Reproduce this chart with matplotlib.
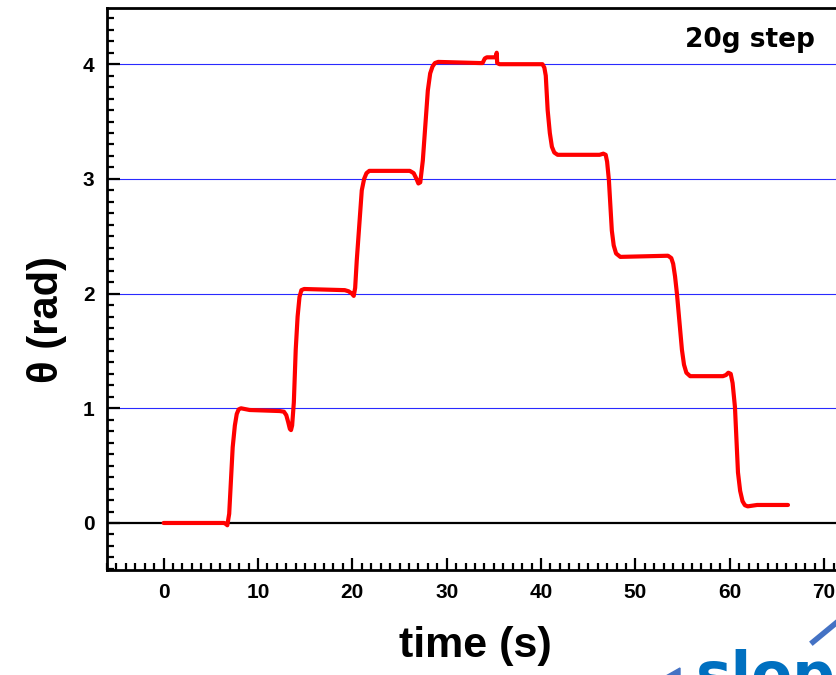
import matplotlib
matplotlib.use("Agg")
import matplotlib.pyplot as plt
from matplotlib.ticker import MultipleLocator
from matplotlib.font_manager import FontProperties
from matplotlib.patches import Polygon
from matplotlib.lines import Line2D

# angle vs time for the 20 g step run
t_s = [0.0, 6.4, 6.62, 6.75, 6.95, 7.32, 7.55, 7.75, 7.95, 8.2,
       9.12, 12.30, 12.75, 13.0, 13.2, 13.38, 13.5, 13.62, 13.8, 14.0,
       14.2, 14.4, 14.6, 14.9, 19.2, 19.6, 19.95, 20.15, 20.3, 20.47,
       21.0, 21.25, 21.5, 21.8, 22.2, 26.09, 26.5, 26.8, 27.0, 27.2,
       27.47, 28.0, 28.25, 28.5, 28.75, 29.1, 33.5, 33.8, 34.04, 34.26,
       35.1, 35.25, 35.3, 35.35, 35.6, 39.87, 40.15, 40.35, 40.5, 40.7,
       40.93, 41.15, 41.4, 41.75, 46.2, 46.6, 46.85, 47.0, 47.19, 47.5,
       47.7, 47.95, 48.4, 53.45, 53.8, 54.0, 54.2, 54.4, 54.93, 55.15,
       55.4, 55.8, 59.28, 59.6, 59.85, 60.1, 60.3, 60.55, 60.87, 61.1,
       61.35, 61.6, 61.9, 62.9, 66.17]
theta_rad = [0.0, 0.0, -0.01, -0.02, 0.08, 0.66, 0.85, 0.95, 0.99, 1.0,
             0.985, 0.976, 0.97, 0.94, 0.88, 0.82, 0.81, 0.85, 1.05, 1.51,
             1.80, 1.97, 2.03, 2.04, 2.03, 2.02, 2.0, 1.98, 2.05, 2.29,
             2.90, 3.0, 3.05, 3.07, 3.07, 3.07, 3.05, 3.0, 2.96, 2.97,
             3.16, 3.77, 3.92, 3.98, 4.01, 4.02, 4.01, 4.01, 4.05, 4.06,
             4.06, 4.07, 4.10, 4.01, 4.0, 4.0, 4.0, 3.97, 3.90, 3.6,
             3.40, 3.28, 3.23, 3.21, 3.21, 3.22, 3.21, 3.15, 2.99, 2.55,
             2.42, 2.35, 2.32, 2.33, 2.31, 2.26, 2.15, 2.0, 1.51, 1.38,
             1.31, 1.28, 1.28, 1.29, 1.31, 1.30, 1.22, 1.01, 0.44, 0.28,
             0.19, 0.155, 0.145, 0.157, 0.157]

grid_levels = [1, 2, 3, 4]
x_ticks = [0, 10, 20, 30, 40, 50, 60, 70]
y_ticks = [0, 1, 2, 3, 4]

fig = plt.figure(figsize=(8.36, 6.75), dpi=100)
ax = fig.add_axes([107/836, 105/675, 736/836, 562/675])

lab = dict(family="Liberation Sans", weight="bold")

for lv in grid_levels:
    ax.axhline(lv, color="#2a2aff", lw=0.8, zorder=1)
ax.axhline(0, color="black", lw=1.6, zorder=1)

ax.plot(t_s, theta_rad, color="red", lw=3, solid_joinstyle="round",
        solid_capstyle="round", zorder=3)

ax.set_xlim(-6, 72)
ax.set_ylim(-0.41, 4.49)
ax.set_xticks(x_ticks)
ax.set_yticks(y_ticks)
ax.xaxis.set_minor_locator(MultipleLocator(1))
ax.yaxis.set_minor_locator(MultipleLocator(0.1))
ax.tick_params(which="both", direction="in", width=1.6, top=False, right=False)
ax.tick_params(which="major", length=9, pad=9)
ax.tick_params(which="minor", length=5)
for lbl in ax.get_xticklabels() + ax.get_yticklabels():
    lbl.set_fontproperties(FontProperties(**lab, size=15))
for sp in ax.spines.values():
    sp.set_linewidth(2)

ax.set_xlabel("time (s)", fontsize=31, **lab)
ax.xaxis.set_label_coords(0.5, -0.1)
ax.xaxis.label.set_va("top")
ax.set_ylabel("θ (rad)", fontsize=30, **lab)
ax.yaxis.set_label_coords(-0.055, 0.445)

ax.text(0.874, 0.93, "20g step", transform=ax.transAxes, ha="center",
        va="baseline", family="DejaVu Sans", weight="bold", fontsize=19)

# slope callout along the bottom edge
fig.text(696/836, -20/675, "slope", color="#0070C0", family="DejaVu Sans",
         weight="bold", fontsize=43, va="baseline", ha="left")
fig.add_artist(Line2D([813/836, 870/836], [33/675, 80/675], color="#4472C4",
                      lw=4, transform=fig.transFigure))
fig.add_artist(Polygon([[650/836, -10/675], [680/836, 7/675], [680/836, -25/675]],
                       closed=True, color="#4472C4", transform=fig.transFigure))

fig.savefig("out.png", dpi=100)
